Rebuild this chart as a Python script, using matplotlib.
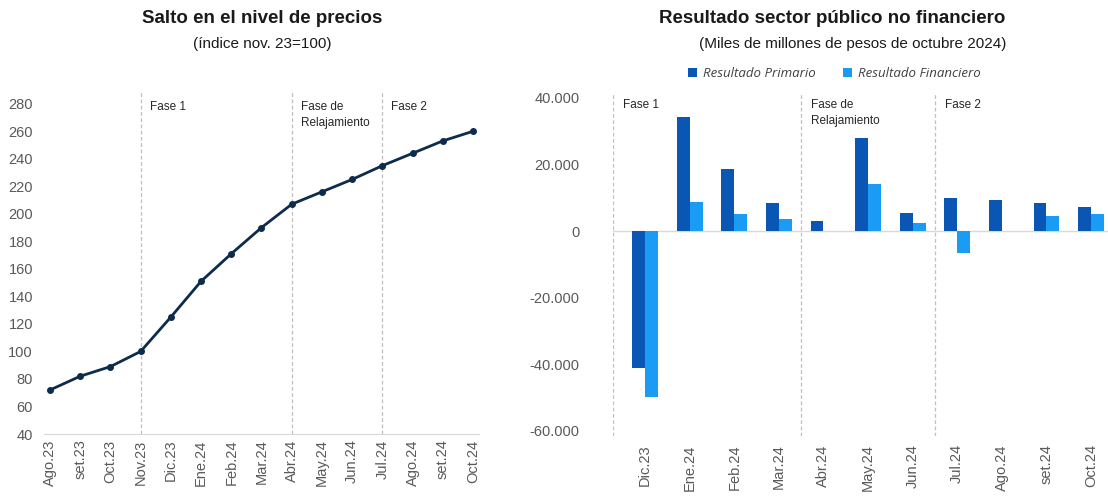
import matplotlib
matplotlib.use("Agg")
import matplotlib.pyplot as plt
import numpy as np

# ---- Data ----
price_months = ["Ago.23", "set.23", "Oct.23", "Nov.23", "Dic.23", "Ene.24", "Feb.24",
                "Mar.24", "Abr.24", "May.24", "Jun.24", "Jul.24", "Ago.24", "set.24", "Oct.24"]
price_index = [72, 82, 89, 100, 125, 151, 171, 190, 207, 216, 225, 235, 244, 253, 260]

fiscal_months = ["Dic.23", "Ene.24", "Feb.24", "Mar.24", "Abr.24", "May.24", "Jun.24",
                 "Jul.24", "Ago.24", "set.24", "Oct.24"]
primario = [-41000, 34200, 18600, 8400, 3100, 27900, 5400, 9900, 9300, 8300, 7100]
financiero = [-49800, 8700, 5100, 3600, 0, 14100, 2400, -6700, 0, 4500, 5000]

phase_labels = ["Fase 1", "Fase de\nRelajamiento", "Fase 2"]
price_phase_starts = ["Nov.23", "Abr.24", "Jul.24"]
fiscal_phase_starts = ["Dic.23", "Abr.24", "Jul.24"]

# ---- Style ----
LINE_COL = "#0D2B4A"
DARK = "#0A56B5"
LIGHT = "#1A9CF5"
TICK_COL = "#595959"
GRID_COL = "#BFBFBF"
plt.rcParams['font.family'] = ['Liberation Sans', 'DejaVu Sans']

fig = plt.figure(figsize=(11.08, 4.96), dpi=100)

# ---- Left chart ----
ax1 = fig.add_axes([0.0397, 0.125, 0.3926, 0.6935])
x1 = np.arange(len(price_months))
ax1.plot(x1, price_index, color=LINE_COL, lw=2.0, marker='o', ms=4, zorder=3)
ax1.set_xlim(-0.2, len(price_months) - 0.8)
ax1.set_ylim(40, 290)
ax1.set_yticks(np.arange(40, 281, 20))
ax1.set_xticks(x1)
ax1.set_xticklabels(price_months, rotation=90)
for s in ["top", "right", "left"]:
    ax1.spines[s].set_visible(False)
ax1.spines["bottom"].set_color("#D9D9D9")
ax1.tick_params(axis='both', length=0, labelsize=10.5, colors=TICK_COL, pad=4)
ax1.tick_params(axis='y', pad=8)
for lab, m in zip(phase_labels, price_phase_starts):
    xi = price_months.index(m)
    ax1.axvline(xi, color=GRID_COL, lw=0.9, ls=(0, (3, 2)), zorder=1)
    ax1.text(xi + 0.3, 282, lab, fontsize=8.5, color="#262626", va='top', ha='left',
             linespacing=1.4)

fig.text(0.237, 0.963, "Salto en el nivel de precios", ha='center', va='center',
         fontsize=13.5, fontweight='bold', color="#1a1a1a")
fig.text(0.237, 0.911, "(índice nov. 23=100)", ha='center', va='center',
         fontsize=11, color="#1a1a1a")

# ---- Right chart ----
ax2 = fig.add_axes([0.5532, 0.121, 0.4468, 0.692])
x2 = np.arange(len(fiscal_months))
w = 0.29
b1 = ax2.bar(x2 - w / 2, primario, width=w, color=DARK, label="Resultado Primario", zorder=3)
b2 = ax2.bar(x2 + w / 2, financiero, width=w, color=LIGHT, label="Resultado Financiero", zorder=3)
ax2.set_xlim(-0.72, 10.38)
ax2.set_ylim(-61500, 41500)
ax2.set_yticks(np.arange(-60000, 40001, 20000))
ax2.set_yticklabels([f"{v:,.0f}".replace(",", ".") for v in np.arange(-60000, 40001, 20000)])
ax2.set_xticks(x2)
ax2.set_xticklabels(fiscal_months, rotation=90)
for s in ["top", "right", "left", "bottom"]:
    ax2.spines[s].set_visible(False)
ax2.axhline(0, color="#D9D9D9", lw=1, zorder=2)
ax2.tick_params(axis='both', length=0, labelsize=10.5, colors=TICK_COL, pad=6)
ax2.tick_params(axis='y', pad=24)
for lab, m in zip(phase_labels, fiscal_phase_starts):
    xi = fiscal_months.index(m)
    xl = -0.72 if xi == 0 else xi - 0.5
    ax2.axvline(xl, color=GRID_COL, lw=0.9, ls=(0, (3, 2)), zorder=1)
    ax2.text(xl + 0.22, 39500, lab, fontsize=8.5, color="#262626", va='top', ha='left',
             linespacing=1.4)

fig.text(0.751, 0.963, "Resultado sector público no financiero", ha='center', va='center',
         fontsize=13.5, fontweight='bold', color="#1a1a1a")
fig.text(0.770, 0.911, "(Miles de millones de pesos de octubre 2024)", ha='center',
         va='center', fontsize=11, color="#1a1a1a")

leg = fig.legend(handles=[b1, b2], loc='center', bbox_to_anchor=(0.753, 0.852), ncol=2,
                 frameon=False, handlelength=0.7, handleheight=0.7,
                 columnspacing=2.0, handletextpad=0.5,
                 prop={'family': ['Open Sans', 'DejaVu Sans'], 'style': 'italic', 'size': 9.5})
for t in leg.get_texts():
    t.set_color("#404040")

fig.savefig("out.png", dpi=100)
